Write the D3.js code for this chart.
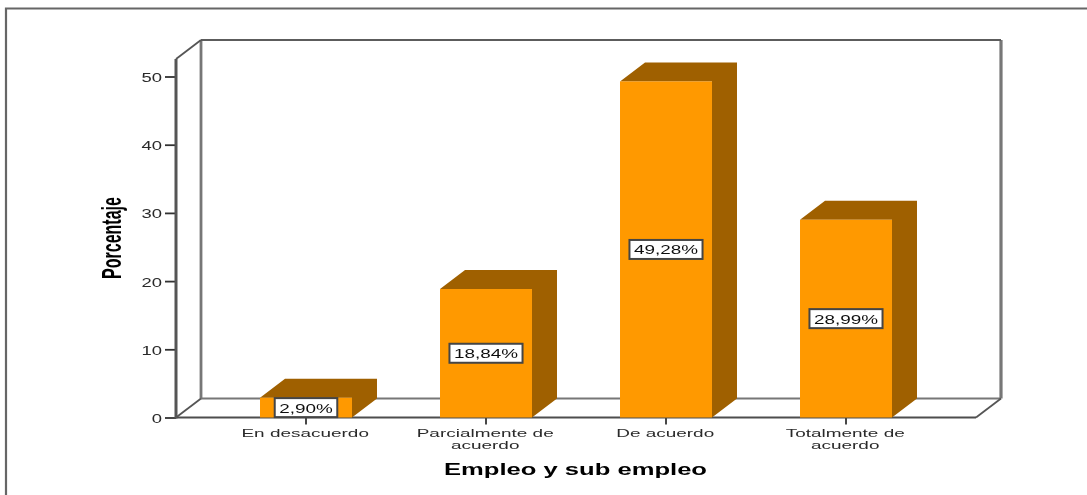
<!DOCTYPE html>
<html>
<head>
<meta charset="utf-8">
<script src="https://cdn.jsdelivr.net/npm/d3@7"></script>
<style>
html,body{margin:0;padding:0;background:#fff;overflow:hidden}
svg{display:block}
text{font-family:"Liberation Sans",Arial,sans-serif}
</style>
</head>
<body>
<svg id="chart" width="1087" height="495"></svg>
<script>
const categories = ["En desacuerdo", "Parcialmente de acuerdo", "De acuerdo", "Totalmente de acuerdo"];
const values = [2.90, 18.84, 49.28, 28.99];
const yTicks = [0, 10, 20, 30, 40, 50];
const yTitle = "Porcentaje";
const xTitle = "Empleo y sub empleo";
const frontColor = "#ff9900";
const shadeColor = "#9f6000";

const depthX = 25, depthY = -19;
const wall = {left: 176, right: 976, bottom: 417.5, top: 59};

const svg = d3.select("#chart");
const defs = svg.append("defs");
defs.append("filter").attr("id", "soft").attr("filterUnits", "userSpaceOnUse")
  .attr("x", 0).attr("y", 0).attr("width", 1087).attr("height", 495)
  .append("feGaussianBlur").attr("stdDeviation", 0.5);
const root = svg.append("g").attr("filter", "url(#soft)");

const y = d3.scaleLinear().domain([0, 50]).range([417.5, 76.5]);
const x = d3.scaleBand().domain(categories).range([216, 936]).paddingInner(0.489).paddingOuter(0.2445);
const fmt = d3.formatLocale({decimal: ",", thousands: ".", grouping: [3], currency: ["", ""]}).format(".2f");

// outer frame
root.append("path").attr("d", "M6,495V8.5H1087").attr("fill", "none").attr("stroke", "#666").attr("stroke-width", 2.2);

// 3D walls
const wallLine = (d, w, c) => root.append("path").attr("d", d).attr("fill", "none").attr("stroke", c).attr("stroke-width", w);
wallLine(`M${wall.left + depthX},${wall.bottom + depthY}V${wall.top + depthY}`, 2.8, "#777");
wallLine(`M${wall.right + depthX},${wall.bottom + depthY}V${wall.top + depthY}`, 3.2, "#777");
wallLine(`M${wall.left + depthX},${wall.top + depthY}H${wall.right + depthX}`, 2, "#5c5c5c");
wallLine(`M${wall.left + depthX},${wall.bottom + depthY}H${wall.right + depthX}`, 2.2, "#777");
wallLine(`M${wall.left},${wall.top}L${wall.left + depthX},${wall.top + depthY}`, 1.8, "#555");
wallLine(`M${wall.left},${wall.bottom}L${wall.left + depthX},${wall.bottom + depthY}`, 1.8, "#555");
wallLine(`M${wall.right},${wall.bottom}L${wall.right + depthX},${wall.bottom + depthY}`, 1.8, "#555");

// x axis
const xAxis = root.append("g").attr("transform", `translate(0,${wall.bottom})`)
  .call(d3.axisBottom(x).tickSize(7).tickSizeOuter(0).tickFormat(""));
xAxis.select(".domain").remove();
xAxis.selectAll(".tick line").attr("stroke", "#333").attr("stroke-width", 1.8);
root.append("line").attr("x1", wall.left).attr("x2", wall.right).attr("y1", wall.bottom).attr("y2", wall.bottom)
  .attr("stroke", "#4d4d4d").attr("stroke-width", 2.2);

// category labels, wrapped at the same width as the reference
function wrap(label) {
  const lines = []; let cur = "";
  label.split(" ").forEach(w => {
    const t = cur ? cur + " " + w : w;
    if (t.length > 15) { lines.push(cur); cur = w; } else cur = t;
  });
  lines.push(cur);
  return lines;
}
categories.forEach(c => {
  const t = root.append("text")
    .attr("transform", `translate(${x(c) + x.bandwidth() / 2 - 0.8},436.5) scale(1.65,1)`)
    .attr("text-anchor", "middle").attr("font-size", 11.5).attr("fill", "#2a2a2a");
  wrap(c).forEach((line, i) => {
    t.append("tspan").attr("x", 0).attr("y", i * 13).text(line);
  });
});

// bars
const bars = root.append("g").selectAll("g").data(values).join("g");
bars.append("path").attr("fill", shadeColor).attr("d", (d, i) => {
  const x0 = x(categories[i]), x1 = x0 + x.bandwidth(), yt = y(d), yb = y(0);
  return `M${x0},${yt}L${x0 + depthX},${yt + depthY}H${x1 + depthX}V${yb + depthY}L${x1},${yb}V${yt}Z`;
});
bars.append("rect").attr("fill", frontColor)
  .attr("x", (d, i) => x(categories[i])).attr("width", x.bandwidth())
  .attr("y", d => y(d)).attr("height", d => y(0) - y(d));

// y axis
const yAxis = root.append("g").attr("transform", `translate(${wall.left},0)`)
  .call(d3.axisLeft(y).tickValues(yTicks).tickSize(11).tickSizeOuter(0).tickFormat(d3.format("d")));
yAxis.select(".domain").remove();
yAxis.selectAll(".tick line").attr("stroke", "#333").attr("stroke-width", 1.8);
yAxis.selectAll(".tick text")
  .attr("x", null).attr("dy", null).attr("text-anchor", "end")
  .attr("transform", "translate(-14,5) scale(1.42,1)")
  .attr("font-size", 13).attr("font-family", '"Liberation Sans",Arial,sans-serif').attr("fill", "#2a2a2a");
root.append("line").attr("x1", wall.left).attr("x2", wall.left).attr("y1", wall.top).attr("y2", wall.bottom + 1)
  .attr("stroke", "#555").attr("stroke-width", 3);

// value labels
const labels = root.append("g").selectAll("g").data(values).join("g")
  .attr("transform", (d, i) => `translate(${x(categories[i]) + x.bandwidth() / 2},${y(d / 2)})`);
labels.append("text")
  .attr("transform", "translate(0,5) scale(1.4,1)")
  .attr("text-anchor", "middle").attr("font-size", 13.5).attr("fill", "#111")
  .text(d => fmt(d) + "%");
labels.each(function () {
  const g = d3.select(this), t = g.select("text"), w = t.node().getComputedTextLength() * 1.4;
  g.insert("rect", "text").attr("x", -w / 2 - 4.5).attr("width", w + 9).attr("y", -9.5).attr("height", 19)
    .attr("fill", "#fff").attr("stroke", "#444").attr("stroke-width", 2);
});

// axis titles
root.append("text").attr("transform", "translate(121,279) rotate(-90)")
  .attr("font-size", 27).attr("font-weight", "bold").attr("fill", "#000")
  .attr("textLength", 82).attr("lengthAdjust", "spacingAndGlyphs").text(yTitle);
root.append("text").attr("x", 444).attr("y", 475)
  .attr("font-size", 16.5).attr("font-weight", "bold").attr("fill", "#000")
  .attr("textLength", 263).attr("lengthAdjust", "spacingAndGlyphs").text(xTitle);
</script>
</body>
</html>
